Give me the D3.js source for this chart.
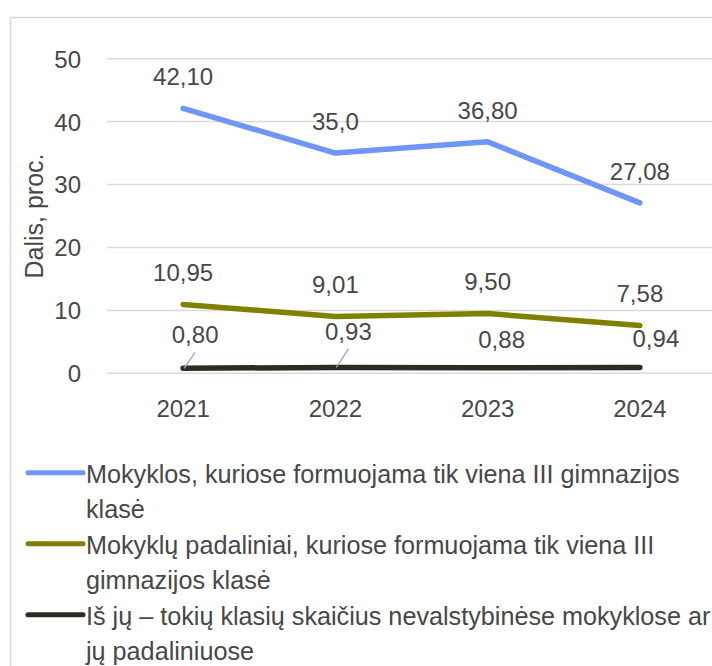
<!DOCTYPE html>
<html>
<head>
<meta charset="utf-8">
<script src="https://cdn.jsdelivr.net/npm/d3@7"></script>
<style>
  html, body { margin: 0; padding: 0; background: #fff; }
  svg { display: block; }
  text { font-family: "Liberation Sans", Arial, sans-serif; fill: #474747; }
</style>
</head>
<body>
<svg id="chart" width="712" height="666"></svg>
<script>
// Years on the category axis
const years = ["2021", "2022", "2023", "2024"];

// Series values (percent)
const oneClassSchools = [42.10, 35.0, 36.80, 27.08];
const oneClassBranches = [10.95, 9.01, 9.50, 7.58];
const nonStateShare = [0.80, 0.93, 0.88, 0.94];

// Value labels as printed
const oneClassSchoolsLabels = ["42,10", "35,0", "36,80", "27,08"];
const oneClassBranchesLabels = ["10,95", "9,01", "9,50", "7,58"];
const nonStateShareLabels = ["0,80", "0,93", "0,88", "0,94"];

// Series names shown in the legend
const seriesNames = [
  "Mokyklos, kuriose formuojama tik viena III gimnazijos klasė",
  "Mokyklų padaliniai, kuriose formuojama tik viena III gimnazijos klasė",
  "Iš jų – tokių klasių skaičius nevalstybinėse mokyklose ar jų padaliniuose"
];

// Y axis ticks and title
const yTicks = [0, 10, 20, 30, 40, 50];
const yTitle = "Dalis, proc.";

const svg = d3.select("#chart");
const W = 712, H = 666;

// Plot geometry
const plot = { left: 107, right: 716, top: 58.7, bottom: 373.3 };
const colors = ["#6e96fa", "#808000", "#302b22"];

svg.append("rect").attr("width", W).attr("height", H).attr("fill", "#fff");

// Chart frame (runs off the right and bottom edges)
svg.append("rect")
  .attr("x", 10.5).attr("y", 17.5)
  .attr("width", 900).attr("height", 900)
  .attr("fill", "none").attr("stroke", "#d9d9d9").attr("stroke-width", 1.5);

const x = d3.scaleBand().domain(years).range([plot.left, plot.right]);
const cx = d => x(d) + x.bandwidth() / 2;
const y = d3.scaleLinear().domain([0, 50]).range([plot.bottom, plot.top]);

// Horizontal gridlines
svg.append("g").selectAll("line").data(yTicks).join("line")
  .attr("x1", plot.left).attr("x2", plot.right)
  .attr("y1", d => y(d)).attr("y2", d => y(d))
  .attr("stroke", "#d9d9d9").attr("stroke-width", 1.5);

// Y axis (labels only)
const yAxis = d3.axisLeft(y).tickValues(yTicks).tickSize(0).tickPadding(0)
  .tickFormat(d3.format("d"));
const gy = svg.append("g").attr("transform", "translate(81,0)").call(yAxis);
gy.select(".domain").remove();
gy.selectAll("text").attr("font-size", 24).attr("dy", "0.35em")
  .attr("font-family", null).attr("fill", null);

// X axis (labels only)
const xAxis = d3.axisBottom(x).tickSize(0).tickPadding(0);
const gx = svg.append("g").attr("transform", "translate(0,417)").call(xAxis);
gx.select(".domain").remove();
gx.selectAll("text").attr("font-size", 24).attr("dy", 0)
  .attr("font-family", null).attr("fill", null);

// Y axis title
svg.append("text")
  .attr("transform", "translate(43,216) rotate(-90)")
  .attr("text-anchor", "middle")
  .attr("font-size", 25)
  .text(yTitle);

const series = [
  { values: oneClassSchools, labels: oneClassSchoolsLabels },
  { values: oneClassBranches, labels: oneClassBranchesLabels },
  { values: nonStateShare, labels: nonStateShareLabels }
];

const line = d3.line().x((d, i) => cx(years[i])).y(d => y(d));

series.forEach((s, k) => {
  svg.append("path")
    .datum(s.values)
    .attr("d", line)
    .attr("fill", "none")
    .attr("stroke", colors[k])
    .attr("stroke-width", 5.5)
    .attr("stroke-linecap", "round")
    .attr("stroke-linejoin", "round");
});

// Value labels: above the point; the small third series is nudged aside
const labelShift = [
  years.map(() => ({ dx: 0, dy: 23 })),
  years.map(() => ({ dx: 0, dy: 23.5 })),
  [{ dx: 12, dy: 25, leader: true }, { dx: 13, dy: 27.5, leader: true },
   { dx: 14, dy: 20 }, { dx: 16, dy: 20 }]
];

series.forEach((s, k) => {
  s.values.forEach((v, i) => {
    const px = cx(years[i]), py = y(v);
    const sh = labelShift[k][i];
    const lx = px + sh.dx, ly = py - sh.dy;
    if (sh.leader) {
      svg.append("line")
        .attr("x1", lx).attr("y1", ly + 9)
        .attr("x2", px + 1).attr("y2", py)
        .attr("stroke", "#a6a6a6").attr("stroke-width", 1.3);
    }
    svg.append("text")
      .attr("x", lx).attr("y", ly)
      .attr("text-anchor", "middle")
      .attr("font-size", 24)
      .text(s.labels[i]);
  });
});

// Legend with wrapped names
const legend = { markerX1: 28, markerX2: 83, textX: 86, firstBaseline: 482.7, lineStep: 35.5, maxWidth: 640, fontSize: 25.2 };
let row = 0;
seriesNames.forEach((name, k) => {
  const baseline = legend.firstBaseline + row * legend.lineStep;
  svg.append("line")
    .attr("x1", legend.markerX1).attr("x2", legend.markerX2)
    .attr("y1", baseline - 10).attr("y2", baseline - 10)
    .attr("stroke", colors[k]).attr("stroke-width", 5)
    .attr("stroke-linecap", "round");

  const words = name.split(" ");
  const t = svg.append("text").attr("font-size", legend.fontSize);
  let current = [];
  let tspan = t.append("tspan").attr("x", legend.textX).attr("y", baseline);
  let lineIdx = 0;
  words.forEach(w => {
    current.push(w);
    tspan.text(current.join(" "));
    if (tspan.node().getComputedTextLength() > legend.maxWidth && current.length > 1) {
      current.pop();
      tspan.text(current.join(" "));
      current = [w];
      lineIdx++;
      tspan = t.append("tspan").attr("x", legend.textX)
        .attr("y", baseline + lineIdx * legend.lineStep).text(w);
    }
  });
  row += lineIdx + 1;
});
</script>
</body>
</html>
